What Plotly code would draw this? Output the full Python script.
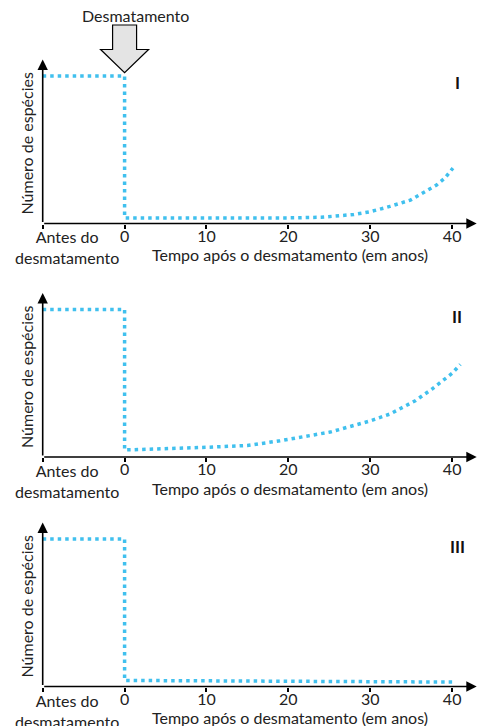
import plotly.graph_objects as go

W, H = 478, 726

# ---------------- data ----------------
antes_x = -10            # position of "Antes do desmatamento" on the time axis
nivel_antes = 90         # number of species before deforestation (relative scale 0-100)

anos_I = [0, 5, 10, 15, 20, 24, 26.3, 28, 30, 32.4, 34.9, 36.9, 38.1, 39.1, 40.1]
especies_I = [3.4, 3.3, 3.3, 3.3, 3.4, 3.8, 4.6, 5.5, 7.2, 10.4, 14.3, 19.8, 23.5, 27.6, 33.8]

anos_II = [0, 5, 10, 15, 19, 25.1, 30, 32.4, 35.5, 37.5, 39.1, 40, 41]
especies_II = [4.3, 5.0, 5.9, 7.0, 9.9, 15.2, 22.0, 26.2, 34.3, 41.3, 47.6, 51.0, 56.5]

anos_III = [0, 10, 20, 30, 40]
especies_III = [3.7, 3.4, 3.2, 3.0, 2.7]

tick_vals = [antes_x, 0, 10, 20, 30, 40]
tick_text = ["", "0", "10", "20", "30", "40"]
paineis = ["I", "II", "III"]

# ---------------- layout helpers ----------------
FONT = "Lato"
FS = 16
COR = "#40c0ee"
TXT = "#222"
X_RANGE = [-10, 43]
Y_RANGE = [0, 100]
X_DOM = [42.7 / W, 476.7 / W]
AXIS_PX = [223.5, 457.0, 686.5]   # pixel row of each x axis
PANEL_H = 164.0


def py(v):
    return 1 - v / H


def pxx(v):
    return v / W


def xdata_to_paper(x):
    return X_DOM[0] + (x - X_RANGE[0]) / (X_RANGE[1] - X_RANGE[0]) * (X_DOM[1] - X_DOM[0])


fig = go.Figure()
series = [(anos_I, especies_I), (anos_II, especies_II), (anos_III, especies_III)]
annotations = []
layout_axes = {}

for i, ((anos, esp), nome) in enumerate(zip(series, paineis)):
    k = "" if i == 0 else str(i + 1)
    xs = [antes_x, 0] + list(anos)
    ys = [nivel_antes, nivel_antes] + list(esp)
    fig.add_trace(go.Scatter(
        x=xs, y=ys, mode="lines", xaxis="x" + k, yaxis="y" + k,
        line=dict(color=COR, width=3.5, dash="3.5px,4px"),
        hoverinfo="skip", showlegend=False,
    ))
    ax_px = AXIS_PX[i]
    layout_axes["xaxis" + k] = dict(
        domain=X_DOM, range=X_RANGE, anchor="y" + k,
        showgrid=False, zeroline=False, showline=False,
        tickmode="array", tickvals=tick_vals, ticktext=tick_text,
        ticks="outside", ticklen=4, tickwidth=1.5, tickcolor="black",
        ticklabelstandoff=-6,
        tickfont=dict(family=FONT, size=FS, color=TXT),
        fixedrange=True,
    )
    layout_axes["yaxis" + k] = dict(
        domain=[py(ax_px), py(ax_px - PANEL_H)], range=Y_RANGE, anchor="x" + k,
        showgrid=False, zeroline=False, showline=False, showticklabels=False,
        ticks="", fixedrange=True,
    )
    xr, yr = "x" + k, "y" + k
    # axis arrows
    annotations.append(dict(x=X_RANGE[1], y=0, ax=antes_x, ay=0, xref=xr, yref=yr,
                            axref=xr, ayref=yr, text="", showarrow=True,
                            arrowhead=2, arrowsize=1.3, arrowwidth=1.6, arrowcolor="black"))
    annotations.append(dict(x=antes_x, y=Y_RANGE[1], ax=antes_x, ay=0, xref=xr, yref=yr,
                            axref=xr, ayref=yr, text="", showarrow=True,
                            arrowhead=2, arrowsize=1.3, arrowwidth=1.6, arrowcolor="black"))
    # texts
    annotations.append(dict(x=pxx(67), y=py(ax_px + 24), xref="paper", yref="paper",
                            text="Antes do<br>desmatamento", showarrow=False,
                            font=dict(family=FONT, size=FS, color=TXT),
                            xanchor="center", yanchor="middle", align="center"))
    annotations.append(dict(x=pxx(290), y=py(ax_px + 31), xref="paper", yref="paper",
                            text="Tempo após o desmatamento (em anos)", showarrow=False,
                            font=dict(family=FONT, size=FS, color=TXT),
                            xanchor="center", yanchor="middle"))
    annotations.append(dict(x=pxx(26), y=py(ax_px - 80), xref="paper", yref="paper",
                            text="Número de espécies", textangle=-90, showarrow=False,
                            font=dict(family=FONT, size=FS, color=TXT),
                            xanchor="center", yanchor="middle"))
    annotations.append(dict(x=pxx(457), y=py(ax_px - 140.5), xref="paper", yref="paper",
                            text="<b>" + nome + "</b>", showarrow=False,
                            font=dict(family=FONT, size=17, color="#111"),
                            xanchor="center", yanchor="middle"))

# "Desmatamento" block arrow above panel I, centred on year 0
cx = xdata_to_paper(0)
hw_shaft = 12 / W
hw_head = 24 / W
y_top, y_neck, y_tip = py(25), py(49.5), py(72.7)
path = (f"M {cx - hw_shaft},{y_top} L {cx + hw_shaft},{y_top} L {cx + hw_shaft},{y_neck} "
        f"L {cx + hw_head},{y_neck} L {cx},{y_tip} L {cx - hw_head},{y_neck} "
        f"L {cx - hw_shaft},{y_neck} Z")
shapes = [dict(type="path", path=path, xref="paper", yref="paper",
               fillcolor="#e4e4e4", line=dict(color="black", width=1.2))]
annotations.append(dict(x=pxx(135), y=py(15), xref="paper", yref="paper",
                        text="Desmatamento", showarrow=False,
                        font=dict(family=FONT, size=FS, color=TXT),
                        xanchor="center", yanchor="middle"))

fig.update_layout(
    width=W, height=H, margin=dict(l=0, r=0, t=0, b=0),
    paper_bgcolor="white", plot_bgcolor="rgba(0,0,0,0)",
    annotations=annotations, shapes=shapes, showlegend=False,
    **layout_axes,
)

fig.write_html("out.html", config={"displayModeBar": False},
               post_script="document.body.style.margin='0';")
